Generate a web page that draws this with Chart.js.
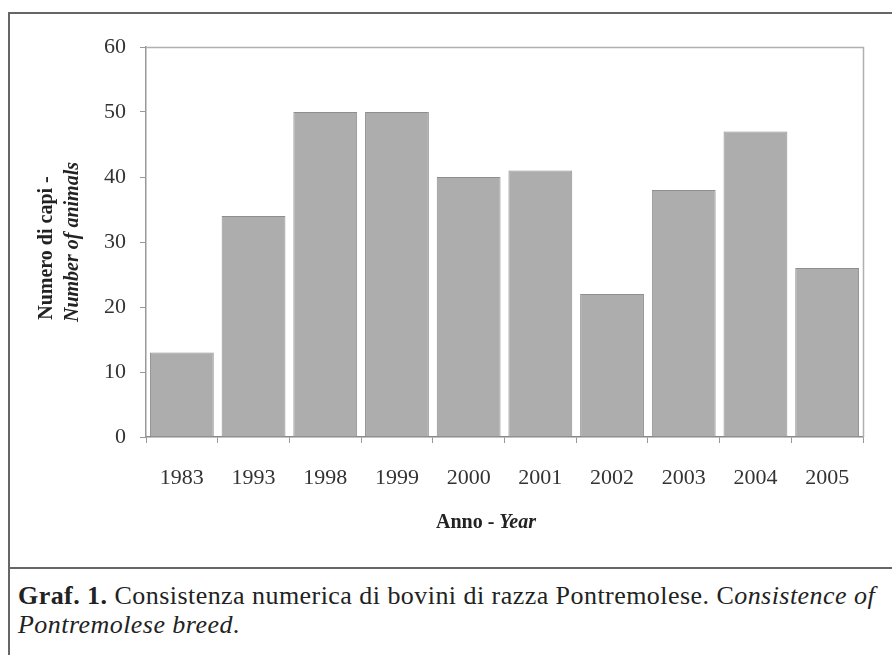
<!DOCTYPE html>
<html>
<head>
<meta charset="utf-8">
<script src="https://cdn.jsdelivr.net/npm/chart.js@4/dist/chart.umd.min.js"></script>
<style>
  html, body { margin: 0; padding: 0; background: #fff; width: 892px; height: 655px; overflow: hidden; }
  #frame { position: absolute; left: 8px; top: 12px; width: 900px; height: 700px; border: 2px solid #666; box-sizing: border-box; }
  #sep { position: absolute; left: 8px; top: 567px; width: 900px; height: 2px; background: #666; }
  #wrap { position: absolute; left: 0; top: 0; width: 892px; height: 567px; }
  #caption { position: absolute; left: 18px; top: 581px; width: 880px; font-family: "Liberation Serif", serif; font-size: 26px; letter-spacing: 0.45px; line-height: 29px; color: #222; white-space: nowrap; }
</style>
</head>
<body>
<div id="frame"></div>
<div id="sep"></div>
<div id="wrap"><canvas id="c" width="892" height="567"></canvas></div>
<div id="caption"><b>Graf. 1.</b> Consistenza numerica di bovini di razza Pontremolese. C<i>onsistence of</i><br><i>Pontremolese breed</i>.</div>
<script>
const years = ['1983', '1993', '1998', '1999', '2000', '2001', '2002', '2003', '2004', '2005'];
const animals = [13, 34, 50, 50, 40, 41, 22, 38, 47, 26];
const yTicks = [0, 10, 20, 30, 40, 50, 60];
const xTitleParts = ['Anno - ', 'Year'];
const yTitleLines = ['Numero di capi -', 'Number of animals'];

const serif = '"Liberation Serif", "Times New Roman", serif';

const decor = {
  id: 'decor',
  afterDraw(chart) {
    const ctx = chart.ctx;
    const a = chart.chartArea;
    ctx.save();
    // top and right frame of plot area
    ctx.strokeStyle = '#b0b0b0';
    ctx.lineWidth = 1.5;
    ctx.beginPath();
    ctx.moveTo(a.left, a.top + 0.5);
    ctx.lineTo(a.right + 0.5, a.top + 0.5);
    ctx.lineTo(a.right + 0.5, a.bottom);
    ctx.stroke();

    // x axis title: bold + bold italic
    ctx.fillStyle = '#222';
    ctx.textBaseline = 'middle';
    const f1 = 'bold 20px ' + serif;
    const f2 = 'italic bold 20px ' + serif;
    ctx.font = f1; const w1 = ctx.measureText(xTitleParts[0]).width;
    ctx.font = f2; const w2 = ctx.measureText(xTitleParts[1]).width;
    const cx = 486, cy = 523;
    let x0 = cx - (w1 + w2) / 2;
    ctx.textAlign = 'left';
    ctx.font = f1; ctx.fillText(xTitleParts[0], x0, cy);
    ctx.font = f2; ctx.fillText(xTitleParts[1], x0 + w1, cy);

    // y axis title, two rotated lines
    ctx.textAlign = 'center';
    ctx.save();
    ctx.translate(47, 248);
    ctx.rotate(-Math.PI / 2);
    ctx.font = 'bold 20px ' + serif;
    ctx.fillText(yTitleLines[0], 0, 0);
    ctx.restore();
    ctx.save();
    ctx.translate(73, 242);
    ctx.rotate(-Math.PI / 2);
    ctx.font = 'italic bold 20px ' + serif;
    ctx.fillText(yTitleLines[1], 0, 0);
    ctx.restore();
    ctx.restore();
  }
};

new Chart(document.getElementById('c'), {
  type: 'bar',
  data: {
    labels: years,
    datasets: [{
      data: animals,
      backgroundColor: '#adadad',
      borderColor: '#8e8e8e',
      borderWidth: 1,
      barPercentage: 0.89,
      categoryPercentage: 1.0
    }]
  },
  options: {
    responsive: false,
    animation: false,
    devicePixelRatio: 1,
    layout: { padding: { top: 47, right: 29, left: 0, bottom: 0 } },
    plugins: { legend: { display: false }, tooltip: { enabled: false } },
    scales: {
      x: {
        afterFit(scale) { scale.height = 130; },
        grid: { offset: true, drawOnChartArea: false, tickLength: 6, color: '#999', lineWidth: 1 },
        border: { color: '#888', width: 1.5 },
        ticks: { font: { family: serif, size: 22 }, color: '#333', padding: 22, maxRotation: 0 }
      },
      y: {
        min: 0, max: 60,
        afterFit(scale) { scale.width = 146; },
        afterBuildTicks(scale) { scale.ticks = yTicks.map(v => ({ value: v })); },
        grid: { drawOnChartArea: false, tickLength: 6, color: '#999', lineWidth: 1 },
        border: { color: '#999', width: 1.5 },
        ticks: { font: { family: serif, size: 22 }, color: '#333', padding: 14 }
      }
    }
  },
  plugins: [decor]
});
</script>
</body>
</html>
